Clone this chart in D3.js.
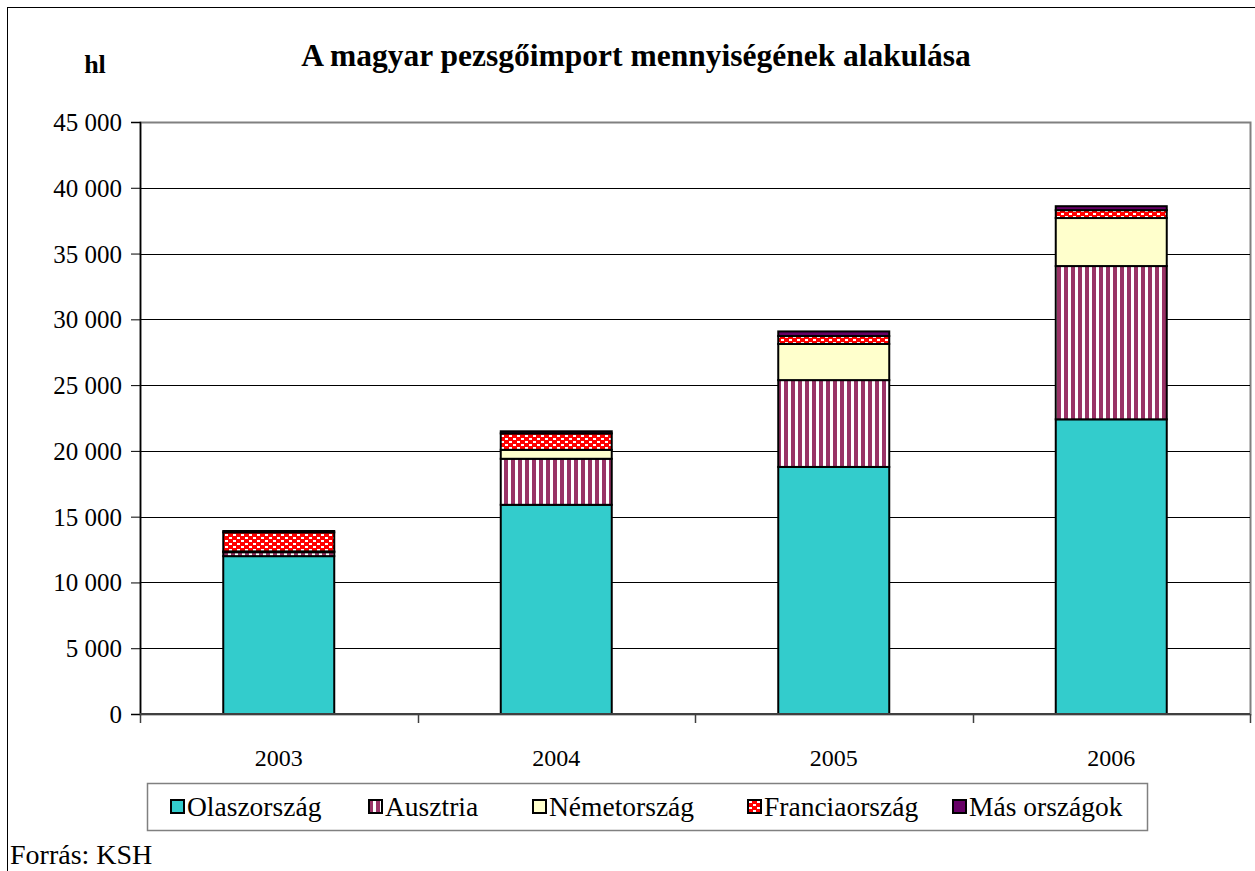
<!DOCTYPE html>
<html>
<head>
<meta charset="utf-8">
<script src="https://cdnjs.cloudflare.com/ajax/libs/d3/7.8.5/d3.min.js"></script>
<style>
    body { margin: 0; background: #fff; }
</style>
</head>
<body>
<div id="chart"></div>
<script>
// Data (hl)
const years = ["2003", "2004", "2005", "2006"];
const countries = ["Olaszország", "Ausztria", "Németország", "Franciaország", "Más országok"];
const olasz = [12000, 15900, 18780, 22400];
const ausztria = [300, 3500, 6600, 11650];
const nemet = [60, 680, 2750, 3650];
const francia = [1450, 1250, 600, 600];
const mas = [100, 160, 350, 300];
const yTicks = [0, 5000, 10000, 15000, 20000, 25000, 30000, 35000, 40000, 45000];

const series = [olasz, ausztria, nemet, francia, mas];
const fills = ["#33CCCC", "url(#stripes)", "#FFFFCC", "url(#dots)", "#660066"];

const FONT = "'Liberation Serif', 'Times New Roman', 'DejaVu Serif', serif";
const W = 1255, H = 871;
const margin = {top: 122, right: 5, bottom: 157, left: 140};
const width = W - margin.left - margin.right;
const height = H - margin.top - margin.bottom;

const svg = d3.select("#chart").append("svg")
    .attr("width", W)
    .attr("height", H)
    .style("font-family", FONT);

// patterns
const defs = svg.append("defs");
const stripes = defs.append("pattern")
    .attr("id", "stripes")
    .attr("patternUnits", "userSpaceOnUse")
    .attr("width", 7).attr("height", 7);
stripes.append("rect").attr("width", 7).attr("height", 7).attr("fill", "#fff");
stripes.append("rect").attr("x", 0).attr("width", 4).attr("height", 7).attr("fill", "#993366");

const dots = defs.append("pattern")
    .attr("id", "dots")
    .attr("patternUnits", "userSpaceOnUse")
    .attr("width", 8).attr("height", 6);
dots.append("rect").attr("width", 8).attr("height", 6).attr("fill", "#FF0000");
dots.append("rect").attr("x", 1).attr("y", 1).attr("width", 3).attr("height", 2).attr("fill", "#fff");
dots.append("rect").attr("x", 5).attr("y", 4).attr("width", 3).attr("height", 2).attr("fill", "#fff");

// outer frame
svg.append("rect")
    .attr("x", 7.5).attr("y", 7.5)
    .attr("width", W + 10).attr("height", H + 10)
    .attr("fill", "none").attr("stroke", "#000").attr("stroke-width", 1);

const g = svg.append("g")
    .attr("transform", "translate(" + margin.left + "," + margin.top + ")");

const x = d3.scaleBand()
    .domain(years)
    .range([0, width])
    .paddingInner(0.6)
    .paddingOuter(0.3);

const y = d3.scaleLinear()
    .domain([0, 45000])
    .range([height, 0]);

// plot area border (gray)
g.append("rect")
    .attr("x", 0.5).attr("y", 0.5)
    .attr("width", width).attr("height", height)
    .attr("fill", "none").attr("stroke", "#808080").attr("stroke-width", 2);

// gridlines
g.append("g")
    .selectAll("line")
    .data(yTicks.filter(d => d > 0 && d < 45000))
    .enter()
    .append("line")
    .attr("x1", 0).attr("x2", width)
    .attr("y1", d => Math.round(y(d)) + 0.5)
    .attr("y2", d => Math.round(y(d)) + 0.5)
    .attr("stroke", "#000").attr("stroke-width", 1);

// stacked bars
const stackData = years.map((yr, i) => {
    let row = {year: yr};
    countries.forEach((c, j) => { row[c] = series[j][i]; });
    return row;
});
const stacked = d3.stack().keys(countries)(stackData);

g.append("g")
    .selectAll("g")
    .data(stacked)
    .enter()
    .append("g")
    .attr("fill", (d, i) => fills[i])
    .selectAll("rect")
    .data(d => d)
    .enter()
    .append("rect")
    .attr("x", d => x(d.data.year))
    .attr("y", d => y(d[1]))
    .attr("width", x.bandwidth())
    .attr("height", d => y(d[0]) - y(d[1]))
    .attr("stroke", "#000")
    .attr("stroke-width", 2);

// y axis
const yAxis = g.append("g")
    .call(d3.axisLeft(y).tickValues(yTicks).tickSize(9).tickPadding(9)
        .tickFormat(d => d3.format(",")(d).replace(",", " ")))
    .attr("font-family", null)
    .attr("font-size", null);
yAxis.select(".domain").attr("stroke", "#000").attr("stroke-width", 1.5);
yAxis.selectAll(".tick line").attr("stroke", "#000");
yAxis.selectAll("text")
    .attr("dy", "0.34em")
    .style("font-size", "25px")
    .style("font-family", FONT);

// x axis (ticks between categories)
const xAxisG = g.append("g")
    .attr("transform", "translate(0," + height + ")");
xAxisG.append("line")
    .attr("x1", 0).attr("x2", width)
    .attr("y1", 0).attr("y2", 0)
    .attr("stroke", "#404040").attr("stroke-width", 2);
xAxisG.selectAll(".sep")
    .data(d3.range(years.length + 1))
    .enter()
    .append("line")
    .attr("x1", d => Math.round(d * width / years.length) + 0.5)
    .attr("x2", d => Math.round(d * width / years.length) + 0.5)
    .attr("y1", 0).attr("y2", 9)
    .attr("stroke", "#404040").attr("stroke-width", 1.5);
xAxisG.selectAll(".lbl")
    .data(years)
    .enter()
    .append("text")
    .attr("x", d => x(d) + x.bandwidth() / 2)
    .attr("y", 52)
    .attr("text-anchor", "middle")
    .style("font-size", "24px")
    .text(d => d);

// title and unit
svg.append("text")
    .attr("x", 636).attr("y", 66)
    .attr("text-anchor", "middle")
    .style("font-size", "31.5px")
    .style("font-weight", "bold")
    .text("A magyar pezsgőimport mennyiségének alakulása");

svg.append("text")
    .attr("x", 95).attr("y", 73)
    .attr("text-anchor", "middle")
    .style("font-size", "26px")
    .style("font-weight", "bold")
    .text("hl");

// legend
const legend = svg.append("g");
legend.append("rect")
    .attr("x", 147.5).attr("y", 783.5)
    .attr("width", 1000).attr("height", 47)
    .attr("fill", "#fff").attr("stroke", "#808080").attr("stroke-width", 1.5);
const legendX = [171, 369, 533, 748, 953];
const items = legend.selectAll(".item")
    .data(countries)
    .enter()
    .append("g")
    .attr("transform", (d, i) => "translate(" + legendX[i] + ",800)");
items.append("rect")
    .attr("width", 13).attr("height", 13)
    .attr("fill", (d, i) => fills[i])
    .attr("stroke", "#000").attr("stroke-width", 2);
items.append("text")
    .attr("x", 16).attr("y", 16)
    .style("font-size", "27.5px")
    .text(d => d);

// source
svg.append("text")
    .attr("x", 10).attr("y", 864)
    .style("font-size", "28px")
    .text("Forrás: KSH");
</script>
</body>
</html>
